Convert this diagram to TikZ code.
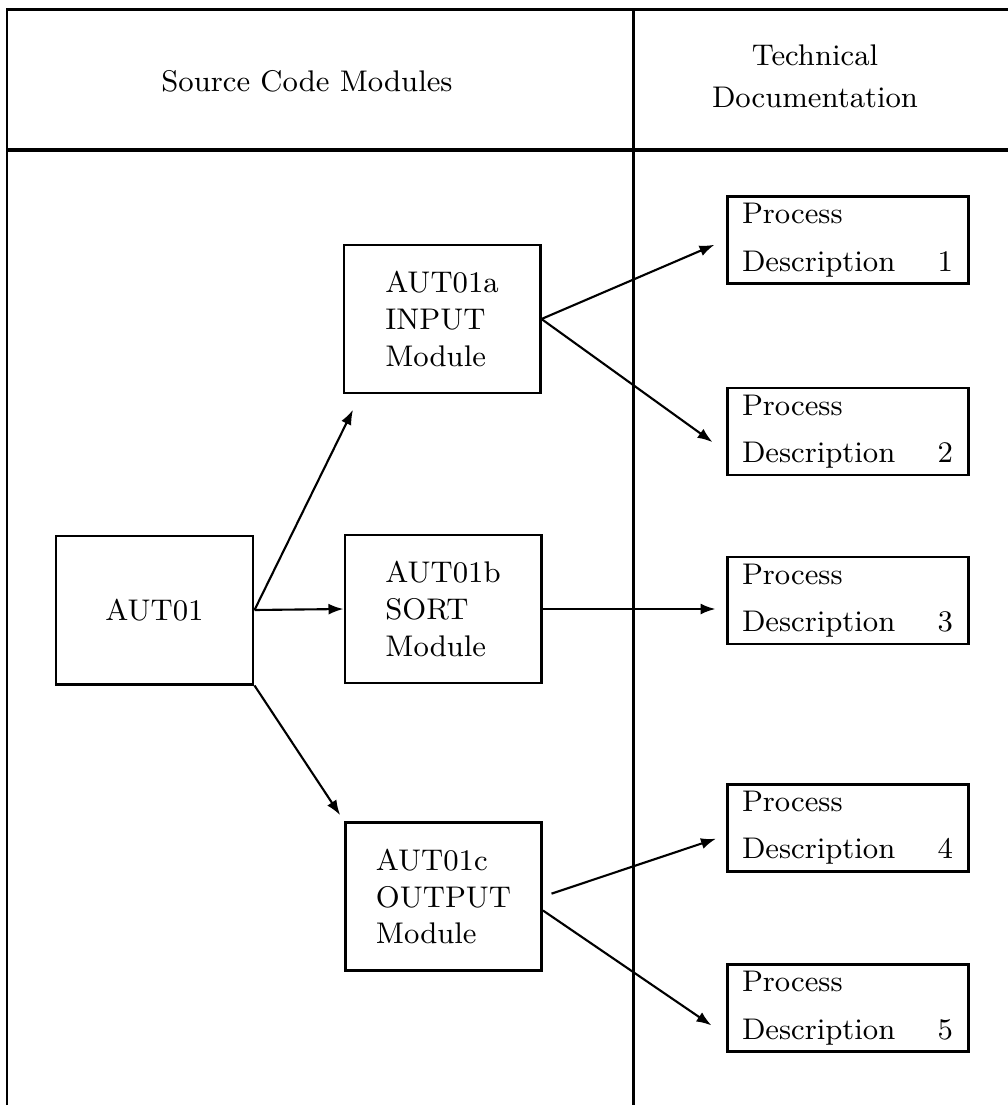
\documentclass[tikz,border=0pt]{standalone}
\usepackage{tikz}
\usetikzlibrary{shapes,arrows,arrows.meta,positioning}

\tikzset{
    module/.style={draw,line width=0.85pt,minimum width=1.96cm,minimum height=1.48cm,align=left},
    procbox/.style={draw,line width=0.85pt,text width=2.11cm,inner xsep=0.15cm,inner ysep=0.05cm,minimum height=0.87cm,align=left},
    link/.style={->,line width=0.6pt}
}

\begin{document}
\begin{tikzpicture}[>={Latex[length=1.5mm,width=1.1mm]},
    every node/.style={font=\fontsize{8.5}{10.5}\selectfont}]
    \useasboundingbox (0,0) rectangle (10.08,-11.09);
    % Draw frame
    \draw[line width=0.85pt] (0.07,-11.05) -- (0.07,-0.10) -- (10.08,-0.10);
    \draw[line width=0.85pt] (6.33,-0.10) -- (6.33,-11.05);
    \draw[line width=1.4pt] (0.07,-1.50) -- (10.08,-1.50);
    % Column heads
    \node (srchead) at (3.07,-0.81) {Source Code Modules};
    \node[align=center] (dochead) at (8.15,-0.76) {Technical\\[1.5pt]Documentation};
    % Modules
    \node[module,minimum width=1.97cm,align=center] (aut01) at (1.545,-6.10) {AUT01};
    \node[module] (aut01a) at (4.42,-3.19) {AUT01a\\INPUT\\Module};
    \node[module] (aut01b) at (4.43,-6.09) {AUT01b\\SORT\\Module};
    \node[module] (aut01c) at (4.435,-8.965) {AUT01c\\OUTPUT\\Module};
    % Process descriptions
    \node[procbox] (pd1) at (8.475,-2.40) {Process\\[3pt]Description\hfill 1};
    \node[procbox] (pd2) at (8.475,-4.315) {Process\\[3pt]Description\hfill 2};
    \node[procbox] (pd3) at (8.475,-6.005) {Process\\[3pt]Description\hfill 3};
    \node[procbox] (pd4) at (8.475,-8.275) {Process\\[3pt]Description\hfill 4};
    \node[procbox] (pd5) at (8.475,-10.08) {Process\\[3pt]Description\hfill 5};
    % Arrows
    \draw[link,shorten >=0.17cm] (aut01.east) -- ([xshift=0.18cm]aut01a.south west);
    \draw[link] (aut01.east) -- (aut01b.west);
    \draw[link,shorten >=2pt] (aut01.south east) -- (aut01c.north west);
    \draw[link,shorten >=0.12cm] (aut01a.east) -- (pd1.west);
    \draw[link,shorten >=0.16cm] (aut01a.east) -- ([yshift=-0.2cm]pd2.west);
    \draw[link,shorten >=0.1cm] (aut01b.east) -- (aut01b.east -| pd3.west);
    \draw[link,shorten <=0.09cm,shorten >=0.1cm] (aut01c.east) -- ([yshift=-0.08cm]pd4.west);
    \draw[link,shorten >=0.17cm] ([yshift=-0.14cm]aut01c.east) -- ([yshift=-0.27cm]pd5.west);
\end{tikzpicture}
\end{document}
